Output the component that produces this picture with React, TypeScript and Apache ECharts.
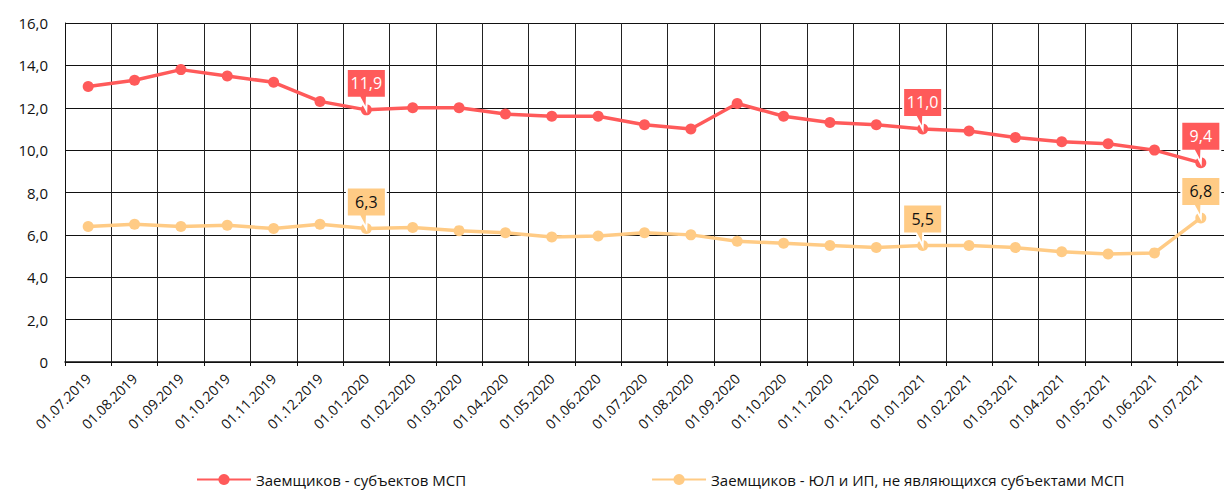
import React, { useEffect, useRef } from "react";
import * as echarts from "echarts";

const categories = [
  "01.07.2019", "01.08.2019", "01.09.2019", "01.10.2019", "01.11.2019", "01.12.2019",
  "01.01.2020", "01.02.2020", "01.03.2020", "01.04.2020", "01.05.2020", "01.06.2020",
  "01.07.2020", "01.08.2020", "01.09.2020", "01.10.2020", "01.11.2020", "01.12.2020",
  "01.01.2021", "01.02.2021", "01.03.2021", "01.04.2021", "01.05.2021", "01.06.2021",
  "01.07.2021",
];

const smeBorrowers = [
  13.0, 13.3, 13.8, 13.5, 13.2, 12.3, 11.9, 12.0, 12.0, 11.7, 11.6, 11.6,
  11.2, 11.0, 12.2, 11.6, 11.3, 11.2, 11.0, 10.9, 10.6, 10.4, 10.3, 10.0, 9.4,
];

const nonSmeBorrowers = [
  6.4, 6.5, 6.4, 6.45, 6.3, 6.5, 6.3, 6.35, 6.2, 6.1, 5.9, 5.95,
  6.1, 6.0, 5.7, 5.6, 5.5, 5.4, 5.5, 5.5, 5.4, 5.2, 5.1, 5.15, 6.8,
];

const labeledIndices = [6, 18, 24];

const seriesNames = [
  "Заемщиков - субъектов МСП",
  "Заемщиков - ЮЛ и ИП, не являющихся субъектами МСП",
];

const RED = "#FF5A5A";
const ORANGE = "#FFCB85";
const FONT = "'Open Sans', 'Noto Sans', sans-serif";

const fmt = (v: number) => (v === 0 ? "0" : v.toFixed(1).replace(".", ","));

const CALLOUT = "path://M0 0H39V29H20L19.5 41L13 29H0Z";

function makeMarkPoint(values: number[], color: string, textColor: string) {
  return {
    symbol: CALLOUT,
    symbolSize: [39, 41],
    symbolOffset: [0, -20.5],
    silent: true,
    itemStyle: { color, borderColor: "#ffffff", borderWidth: 2 },
    label: {
      show: true,
      position: "inside",
      offset: [0, -6],
      color: textColor,
      fontFamily: FONT,
      fontSize: 16,
      formatter: (p: any) => fmt(p.value),
    },
    data: labeledIndices.map((i) => ({
      coord: [categories[i], values[i]],
      value: values[i],
    })),
  };
}

export default function App() {
  const ref = useRef<HTMLDivElement>(null);

  useEffect(() => {
    if (!ref.current) return;
    const chart = echarts.init(ref.current, undefined, { renderer: "svg" });
    chart.setOption({
      animation: false,
      backgroundColor: "#ffffff",
      textStyle: { fontFamily: FONT },
      grid: { left: 65, top: 23, bottom: 129, right: -11, containLabel: false },
      legend: {
        left: 196,
        top: 472,
        itemWidth: 54,
        itemHeight: 14,
        itemGap: 185,
        padding: 0,
        textStyle: { fontFamily: FONT, fontSize: 15, color: "#111" },
        data: seriesNames,
      },
      xAxis: {
        type: "category",
        data: categories,
        boundaryGap: true,
        axisLine: { show: true, lineStyle: { color: "#111", width: 1.5 } },
        axisTick: { show: true, length: 4, lineStyle: { color: "#111" } },
        axisLabel: {
          rotate: 45,
          interval: 0,
          margin: 14,
          color: "#111",
          fontFamily: FONT,
          fontSize: 14,
        },
        splitLine: { show: true, lineStyle: { color: "#222", width: 1 } },
      },
      yAxis: {
        type: "value",
        min: 0,
        max: 16,
        interval: 2,
        axisLine: { show: true, lineStyle: { color: "#111", width: 1 } },
        axisTick: { show: false },
        axisLabel: {
          margin: 17,
          color: "#111",
          fontFamily: FONT,
          fontSize: 15,
          formatter: (v: number) => fmt(v),
        },
        splitLine: { show: true, lineStyle: { color: "#111", width: 1 } },
      },
      series: [
        {
          name: seriesNames[0],
          type: "line",
          data: smeBorrowers,
          symbol: "circle",
          symbolSize: 11,
          lineStyle: { color: RED, width: 3.5 },
          itemStyle: { color: RED },
          z: 3,
          markPoint: makeMarkPoint(smeBorrowers, RED, "#ffffff"),
        },
        {
          name: seriesNames[1],
          type: "line",
          data: nonSmeBorrowers,
          symbol: "circle",
          symbolSize: 11,
          lineStyle: { color: ORANGE, width: 3.5 },
          itemStyle: { color: ORANGE },
          z: 2,
          markPoint: makeMarkPoint(nonSmeBorrowers, ORANGE, "#111111"),
        },
      ],
    });
    return () => chart.dispose();
  }, []);

  return (
    <div
      ref={ref}
      style={{ position: "fixed", left: 0, top: 0, width: 1224, height: 491 }}
    />
  );
}
